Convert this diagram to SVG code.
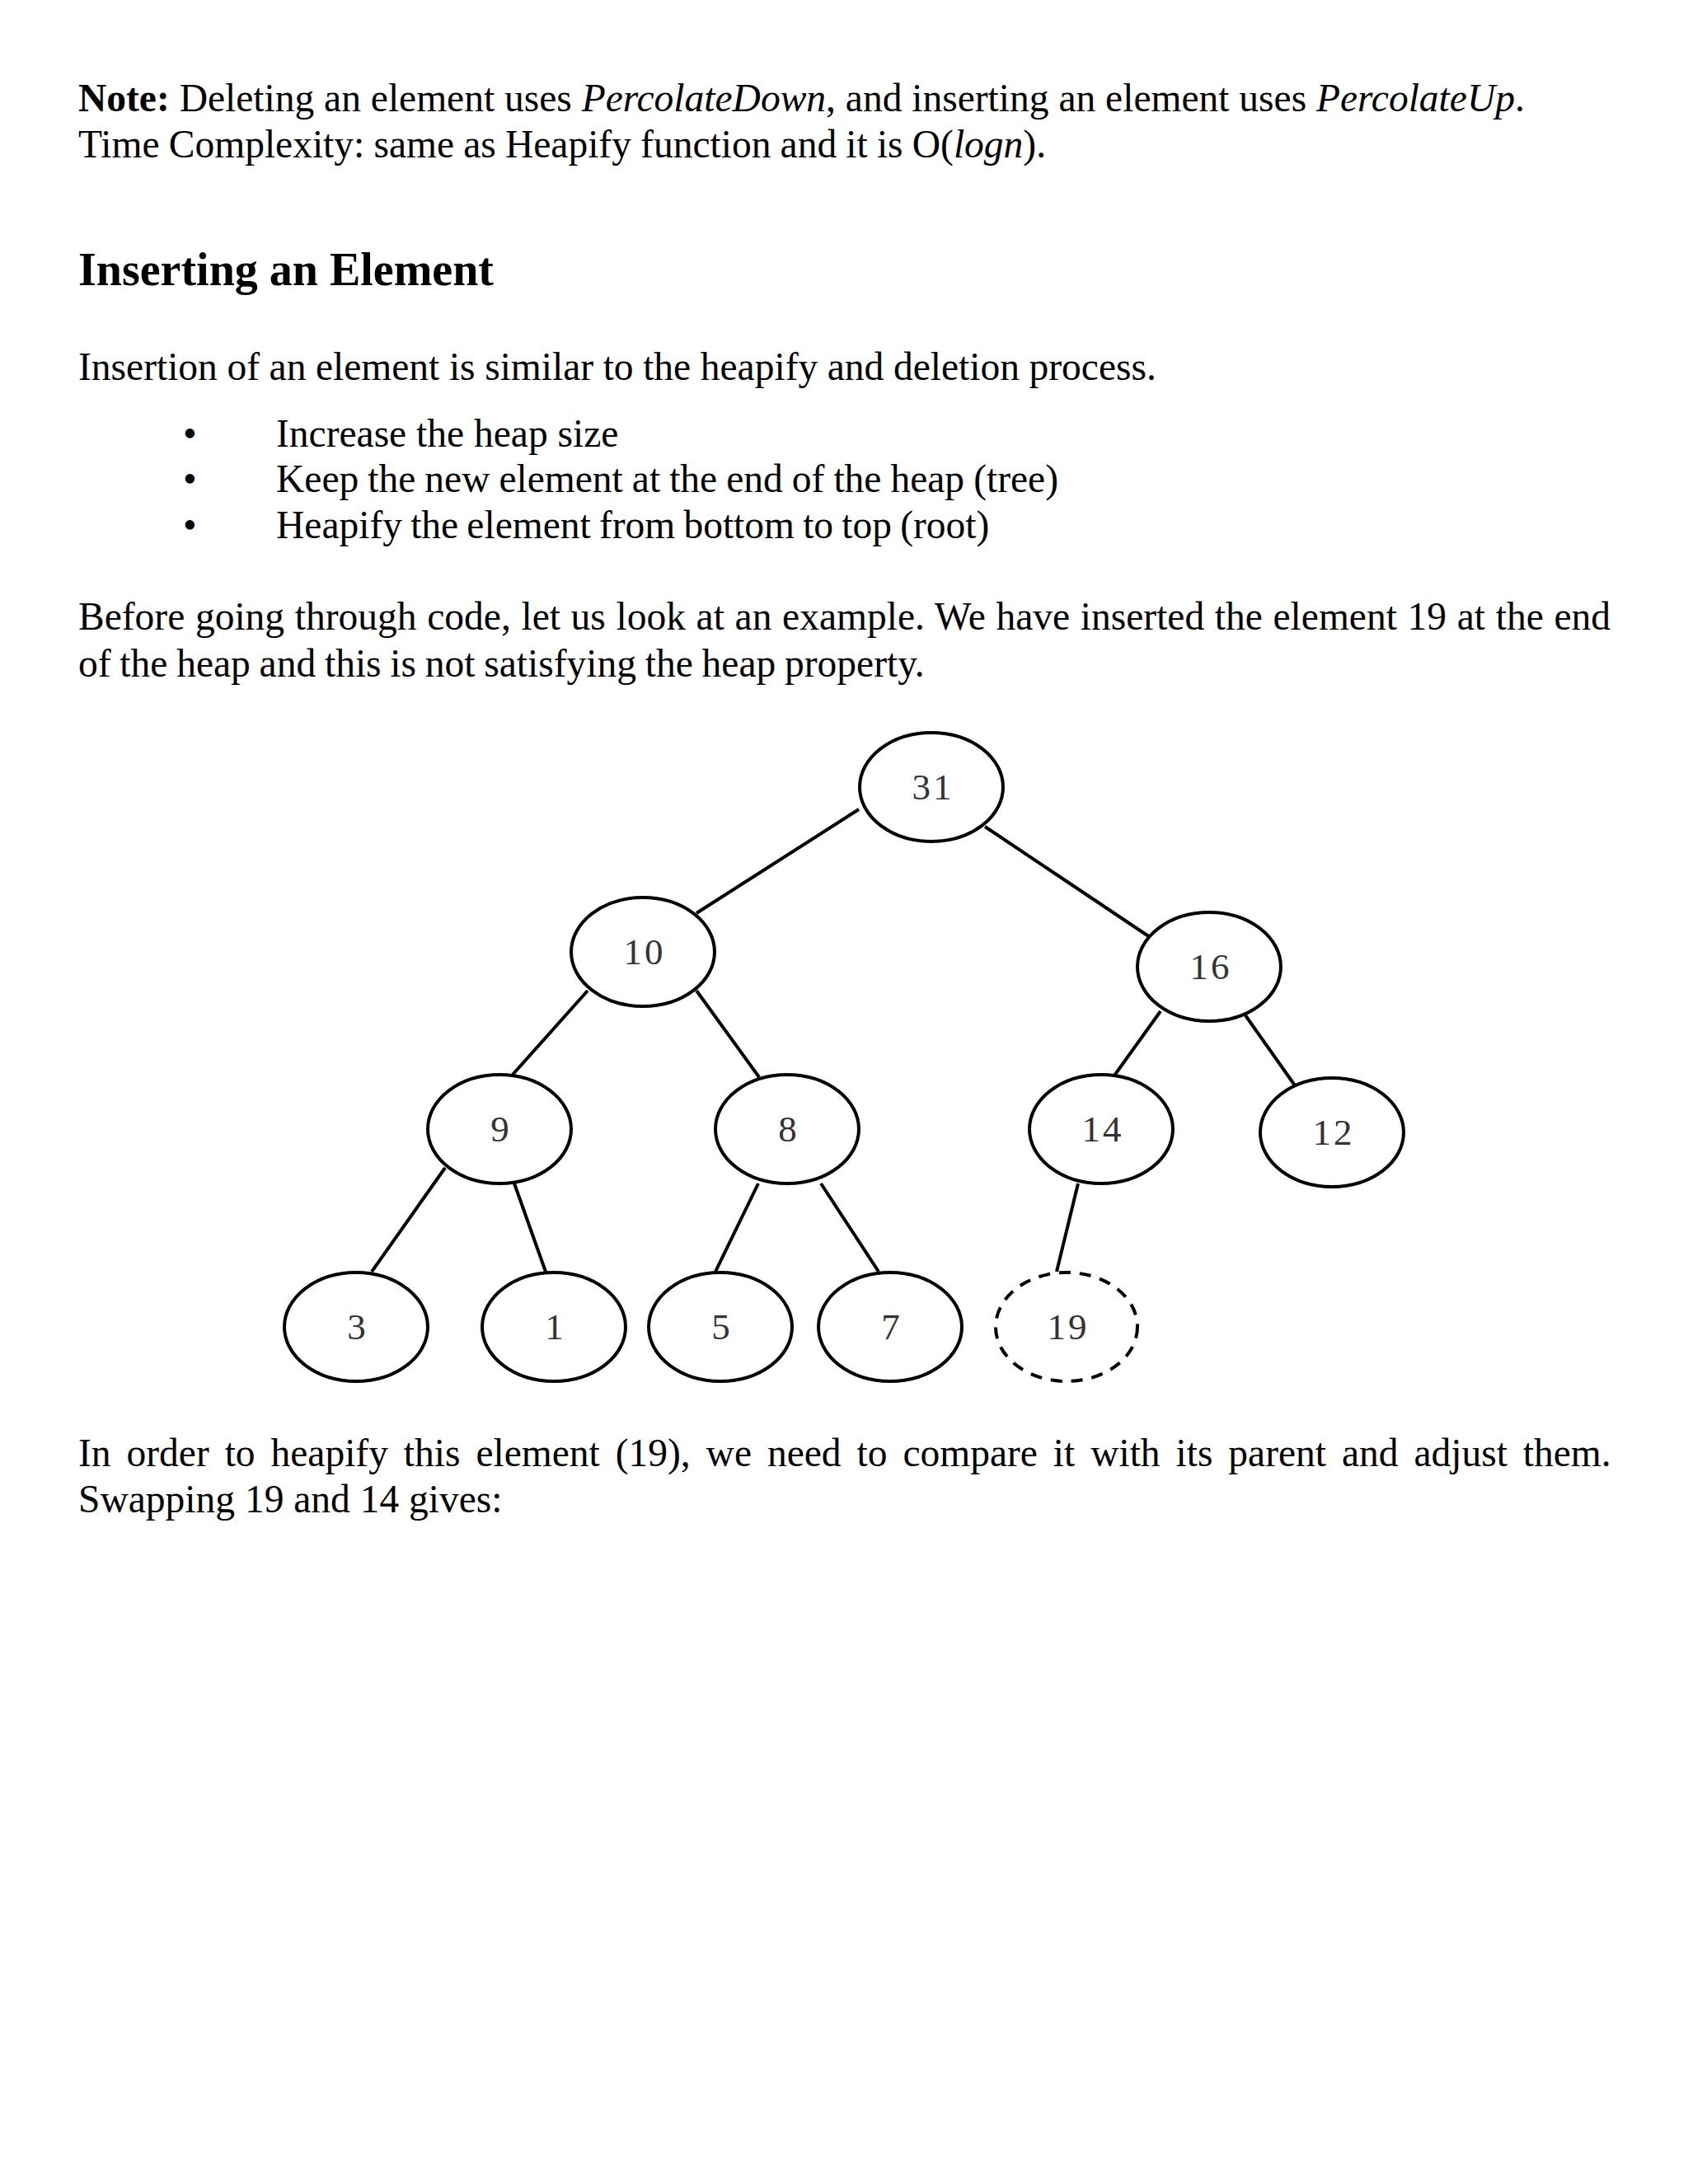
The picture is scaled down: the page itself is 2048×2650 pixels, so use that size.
<svg xmlns="http://www.w3.org/2000/svg" width="2048" height="2650" viewBox="0 0 2048 2650">
<style>
.t{font-family:"Liberation Serif","Times New Roman",serif;font-size:47.5px;fill:#000}
.h{font-family:"Liberation Serif","Times New Roman",serif;font-size:56px;font-weight:bold;fill:#000}
.n{fill:#fff;stroke:#000;stroke-width:4}
.d{fill:#fff;stroke:#000;stroke-width:4;stroke-dasharray:14 11}
.l{font-family:"Liberation Serif","Times New Roman",serif;font-size:45px;fill:#333;text-anchor:middle;letter-spacing:3px}
.e{stroke:#000;stroke-width:4;fill:none}
</style>
<rect width="2048" height="2650" fill="#fff"/>
<g id="text">
<text class="t" x="95" y="135"><tspan font-weight="bold">Note:</tspan> Deleting an element uses <tspan font-style="italic">PercolateDown</tspan>, and inserting an element uses <tspan font-style="italic">PercolateUp</tspan>.</text>
<text class="t" x="95" y="191" word-spacing="-0.7">Time Complexity: same as Heapify function and it is O(<tspan font-style="italic">logn</tspan>).</text>
<text class="h" x="95" y="346">Inserting an Element</text>
<text class="t" x="95" y="461" word-spacing="-0.3">Insertion of an element is similar to the heapify and deletion process.</text>
<text class="t" x="222" y="542">•</text>
<text class="t" x="335" y="542">Increase the heap size</text>
<text class="t" x="222" y="597">•</text>
<text class="t" x="335" y="597" word-spacing="-0.85">Keep the new element at the end of the heap (tree)</text>
<text class="t" x="222" y="653">•</text>
<text class="t" x="335" y="653" word-spacing="-1.7">Heapify the element from bottom to top (root)</text>
<text class="t" x="95" y="764" word-spacing="0.8">Before going through code, let us look at an example. We have inserted the element 19 at the end</text>
<text class="t" x="95" y="821" word-spacing="-1.1">of the heap and this is not satisfying the heap property.</text>
<text class="t" x="95" y="1779" word-spacing="7.05">In order to heapify this element (19), we need to compare it with its parent and adjust them.</text>
<text class="t" x="95" y="1835">Swapping 19 and 14 gives:</text>
</g>
<g id="connectors">
<line class="e" x1="1042" y1="982" x2="845" y2="1108"/>
<line class="e" x1="1195" y1="1003" x2="1395" y2="1137"/>
<line class="e" x1="713" y1="1202" x2="621" y2="1305"/>
<line class="e" x1="845" y1="1202" x2="921" y2="1307"/>
<line class="e" x1="1408" y1="1227" x2="1352" y2="1305"/>
<line class="e" x1="1511" y1="1232" x2="1571" y2="1317"/>
<line class="e" x1="540" y1="1417" x2="451" y2="1543"/>
<line class="e" x1="624" y1="1436" x2="662" y2="1543"/>
<line class="e" x1="920" y1="1436" x2="868" y2="1543"/>
<line class="e" x1="996" y1="1436" x2="1066" y2="1543"/>
<line class="e" x1="1308" y1="1436" x2="1282" y2="1543"/>
</g>
<g id="n31"><ellipse class="n" cx="1130" cy="955" rx="87" ry="66"/><text class="l" x="1132" y="970">31</text></g>
<g id="n10"><ellipse class="n" cx="780" cy="1155" rx="87" ry="66"/><text class="l" x="782" y="1170">10</text></g>
<g id="n16"><ellipse class="n" cx="1467" cy="1173" rx="87" ry="66"/><text class="l" x="1469" y="1188">16</text></g>
<g id="n9"><ellipse class="n" cx="606" cy="1370" rx="87" ry="66"/><text class="l" x="608" y="1385">9</text></g>
<g id="n8"><ellipse class="n" cx="955" cy="1370" rx="87" ry="66"/><text class="l" x="957" y="1385">8</text></g>
<g id="n14"><ellipse class="n" cx="1336" cy="1370" rx="87" ry="66"/><text class="l" x="1338" y="1385">14</text></g>
<g id="n12"><ellipse class="n" cx="1616" cy="1374" rx="87" ry="66"/><text class="l" x="1618" y="1389">12</text></g>
<g id="n3"><ellipse class="n" cx="432" cy="1610" rx="87" ry="66"/><text class="l" x="434" y="1625">3</text></g>
<g id="n1"><ellipse class="n" cx="672" cy="1610" rx="87" ry="66"/><text class="l" x="674" y="1625">1</text></g>
<g id="n5"><ellipse class="n" cx="874" cy="1610" rx="87" ry="66"/><text class="l" x="876" y="1625">5</text></g>
<g id="n7"><ellipse class="n" cx="1080" cy="1610" rx="87" ry="66"/><text class="l" x="1082" y="1625">7</text></g>
<g id="n19"><ellipse class="d" cx="1294" cy="1610" rx="86" ry="66"/><text class="l" x="1296" y="1625">19</text></g>
</svg>
